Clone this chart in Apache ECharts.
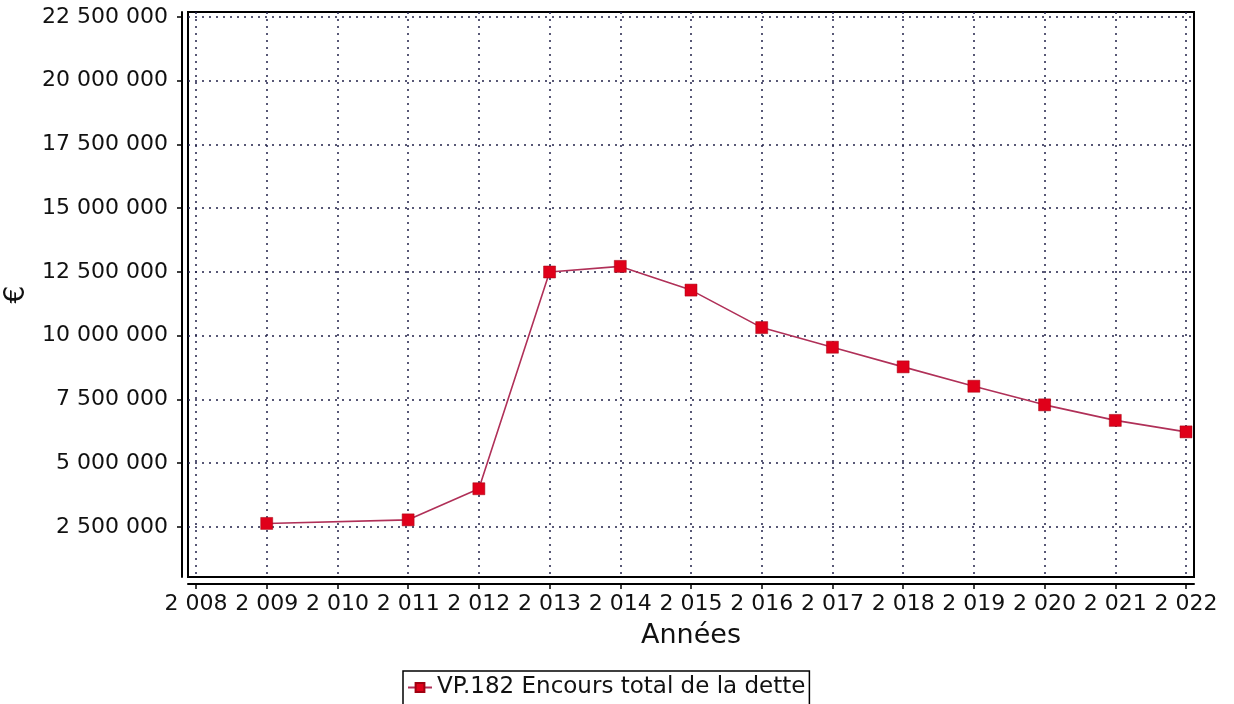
<!DOCTYPE html>
<html>
<head>
<meta charset="utf-8">
<style>
html,body{margin:0;padding:0;background:#fff;}
#c{width:1234px;height:704px;}
</style>
<script src="https://cdn.jsdelivr.net/npm/echarts@6/dist/echarts.min.js"></script>
</head>
<body>
<div id="c"></div>
<script>
// Data
const years = [2009, 2011, 2012, 2013, 2014, 2015, 2016, 2017, 2018, 2019, 2020, 2021, 2022];
const debt = [2640000, 2780000, 4000000, 12500000, 12720000, 11790000, 10320000, 9550000, 8780000, 8020000, 7290000, 6680000, 6230000];
const xTicks = [2008, 2009, 2010, 2011, 2012, 2013, 2014, 2015, 2016, 2017, 2018, 2019, 2020, 2021, 2022];
const yTicks = [2500000, 5000000, 7500000, 10000000, 12500000, 15000000, 17500000, 20000000, 22500000];
const seriesName = 'VP.182 Encours total de la dette';
const xTitle = 'Années';
const yTitle = '€';

function fmt(v) {
  return String(Math.round(v)).replace(/\B(?=(\d{3})+(?!\d))/g, ' ');
}

const FONT = 'DejaVu Sans';
const chart = echarts.init(document.getElementById('c'), null, {renderer: 'canvas'});
chart.setOption({
  backgroundColor: '#ffffff',
  animation: false,
  textStyle: {fontFamily: FONT, color: '#111'},
  grid: {
    left: 188, right: 40, top: 12, bottom: 127,
    outerBoundsMode: 'none',
    containLabel: false,
    show: true, borderColor: '#000', borderWidth: 2, backgroundColor: '#fff'
  },
  legend: {
    left: 403, top: 671,
    padding: [5, 4, 6, 4],
    borderColor: '#000', borderWidth: 1.5,
    itemWidth: 24, itemHeight: 11, itemGap: 10,
    textStyle: {fontFamily: FONT, fontSize: 23, color: '#111'},
    data: [seriesName]
  },
  xAxis: {
    type: 'value',
    min: 2007.887, max: 2022.113,
    offset: 7,
    name: xTitle,
    nameLocation: 'middle',
    nameGap: 38,
    nameTextStyle: {fontFamily: FONT, fontSize: 27, color: '#111'},
    axisLine: {show: true, onZero: false, lineStyle: {color: '#000', width: 2}},
    axisTick: {show: true, length: 5, lineStyle: {color: '#000', width: 1.5}, customValues: xTicks},
    axisLabel: {
      customValues: xTicks,
      margin: 9,
      fontFamily: FONT, fontSize: 22, color: '#111',
      formatter: fmt
    },
    splitLine: {show: true, lineStyle: {color: '#22224a', width: 1.5, type: [2, 5]}}
  },
  yAxis: {
    type: 'value',
    min: 539000, max: 22696000,
    offset: 6,
    name: yTitle,
    nameLocation: 'middle',
    nameGap: 147,
    nameTextStyle: {fontFamily: FONT, fontSize: 28, color: '#111'},
    axisLine: {show: true, onZero: false, lineStyle: {color: '#000', width: 2}},
    axisTick: {show: true, length: 5, lineStyle: {color: '#000', width: 1.5}, customValues: yTicks},
    axisLabel: {
      customValues: yTicks,
      margin: 14,
      fontFamily: FONT, fontSize: 22, color: '#111',
      formatter: fmt
    },
    splitLine: {show: true, lineStyle: {color: '#22224a', width: 1.5, type: [2, 5]}}
  },
  series: [{
    name: seriesName,
    type: 'line',
    data: years.map((y, i) => [y, debt[i]]),
    symbol: 'rect',
    symbolSize: 12,
    showSymbol: true,
    lineStyle: {color: '#b03058', width: 1.6},
    itemStyle: {color: '#e0001a', borderColor: '#a00010', borderWidth: 0.5},
    emphasis: {disabled: true}
  }]
});
</script>
</body>
</html>
